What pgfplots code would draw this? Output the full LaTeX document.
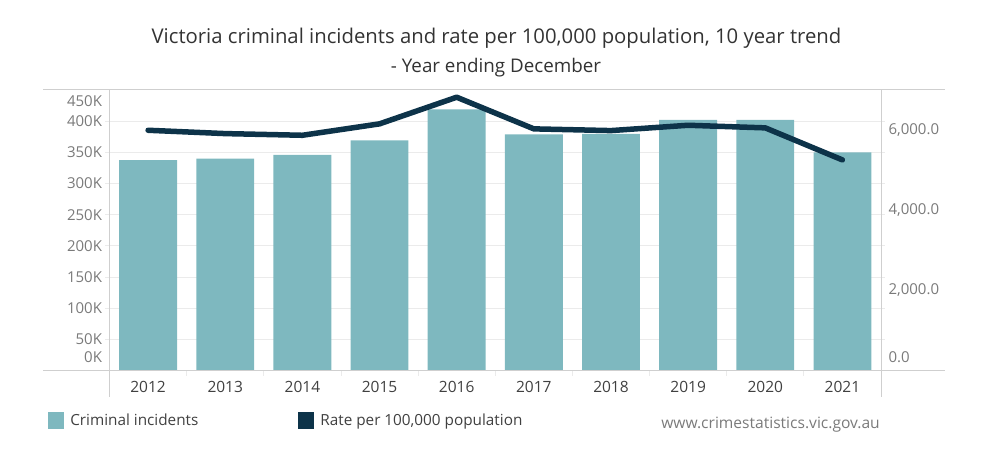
\documentclass[border=0pt]{standalone}
\usepackage{pgfplots}
\pgfplotsset{compat=1.18}
\usepackage{pgfplotstable}
\usepackage{fontspec}
\setmainfont{Open Sans}
\definecolor{barc}{HTML}{7EB8BF}
\definecolor{linec}{HTML}{0D3349}
\definecolor{gridc}{HTML}{EBEBEB}
\definecolor{framec}{HTML}{CFCFCF}
\definecolor{ylab}{HTML}{7A7A7A}
\definecolor{xlab}{HTML}{404040}
\definecolor{titlec}{HTML}{333333}

\pgfplotstableread{
idx year incidents rate
0 2012 337.5 5995
1 2013 340.0 5912
2 2014 346.0 5870
3 2015 369.0 6155
4 2016 419.0 6820
5 2017 379.0 6030
6 2018 379.5 5987
7 2019 402.0 6120
8 2020 402.0 6055
9 2021 350.0 5255
}\datatable

\begin{document}
\begin{tikzpicture}[x=1pt,y=1pt]
\path[use as bounding box] (0pt,0pt) rectangle (1004pt,458pt);

\begin{axis}[
  at={(109.5pt,87.5pt)}, anchor=south west,
  scale only axis, width=771.5pt, height=280.5pt,
  xmin=-0.5, xmax=9.5, ymin=0, ymax=450,
  axis line style={draw=none},
  clip=false,
  xtick={0,...,9},
  xticklabels={2012,2013,2014,2015,2016,2017,2018,2019,2020,2021},
  xtick pos=bottom,
  major x tick style={draw=none},
  minor xtick={0.5,1.5,...,8.5},
  minor x tick style={draw=gridc, line width=0.8pt},
  minor tick length=5pt,
  ytick={50,100,...,400},
  yticklabels={50K,100K,150K,200K,250K,300K,350K,400K},
  ytick pos=both,
  yticklabel pos=left,
  tick align=outside,
  major tick length=4pt,
  ymajorgrids,
  grid style={draw=gridc, line width=0.8pt},
  major y tick style={draw=gridc, line width=0.8pt},
  extra y ticks={21.6,432},
  extra y tick labels={0K,450K},
  extra y tick style={grid=none, major tick length=0pt, yticklabel style={xshift=-4pt}},
  yticklabel style={font=\fontsize{15}{15}\selectfont, text=ylab, anchor=east},
  xticklabel style={font=\fontsize{15.5}{15.5}\selectfont, text=xlab, yshift=-3pt},
  legend style={at={(-0.0793,-0.178)}, anchor=west, draw=none, fill=none,
    legend columns=2, font=\fontsize{15.3}{15.3}\selectfont, text=xlab,
    inner sep=0pt, outer sep=0pt,
    /tikz/every odd column/.append style={column sep=4pt},
    /tikz/every even column/.append style={column sep=98pt}},
  legend image code/.code={\fill[#1] (0pt,-8.5pt) rectangle (16pt,8.5pt);},
]
\addplot[ybar, bar width=0.75, fill=barc, draw=none] table[x=idx, y=incidents]{\datatable};
\addlegendentry{Criminal incidents}
\addlegendimage{fill=linec, draw=none}
\addlegendentry{Rate per 100,000 population}
\end{axis}

\begin{axis}[
  at={(109.5pt,87.5pt)}, anchor=south west,
  scale only axis, width=771.5pt, height=280.5pt,
  xmin=-0.5, xmax=9.5, ymin=0, ymax=7000,
  axis line style={draw=none},
  hide x axis,
  axis y line*=right,
  clip=false,
  ytick={2000,4000,6000},
  extra y ticks={337},
  extra y tick labels={0.0},
  extra y tick style={grid=none},
  tick align=outside,
  major tick length=4pt,
  ytick style={draw=none},
  yticklabel style={font=\fontsize{15}{15}\selectfont, text=ylab, anchor=west,
    /pgf/number format/.cd, fixed, fixed zerofill, precision=1, 1000 sep={,}, assume math mode=true},
  scaled y ticks=false,
]
\addplot[linec, line width=5.5pt, line join=round, line cap=round] table[x=idx, y=rate]{\datatable};
\end{axis}

% frame lines
\draw[framec, line width=1pt] (43pt,368pt) -- (945pt,368pt);
\draw[framec, line width=1pt] (43pt,87.5pt) -- (945pt,87.5pt);
\draw[framec, line width=1pt] (109.5pt,368pt) -- (109.5pt,61.3pt);
\draw[framec, line width=1pt] (881pt,368pt) -- (881pt,61.3pt);

% titles
\node[text=titlec, font=\fontsize{20.3}{20.3}\selectfont] at (496.5pt,420pt) {Victoria criminal incidents and rate per 100,000 population, 10 year trend};
\node[text=titlec, font=\fontsize{18.8}{18.8}\selectfont] at (496pt,390.5pt) {- Year ending December};
\node[text=ylab, font=\fontsize{15.6}{15.6}\selectfont, anchor=east, inner sep=0pt] at (880pt,33.5pt) {www.crimestatistics.vic.gov.au};
\end{tikzpicture}
\end{document}
